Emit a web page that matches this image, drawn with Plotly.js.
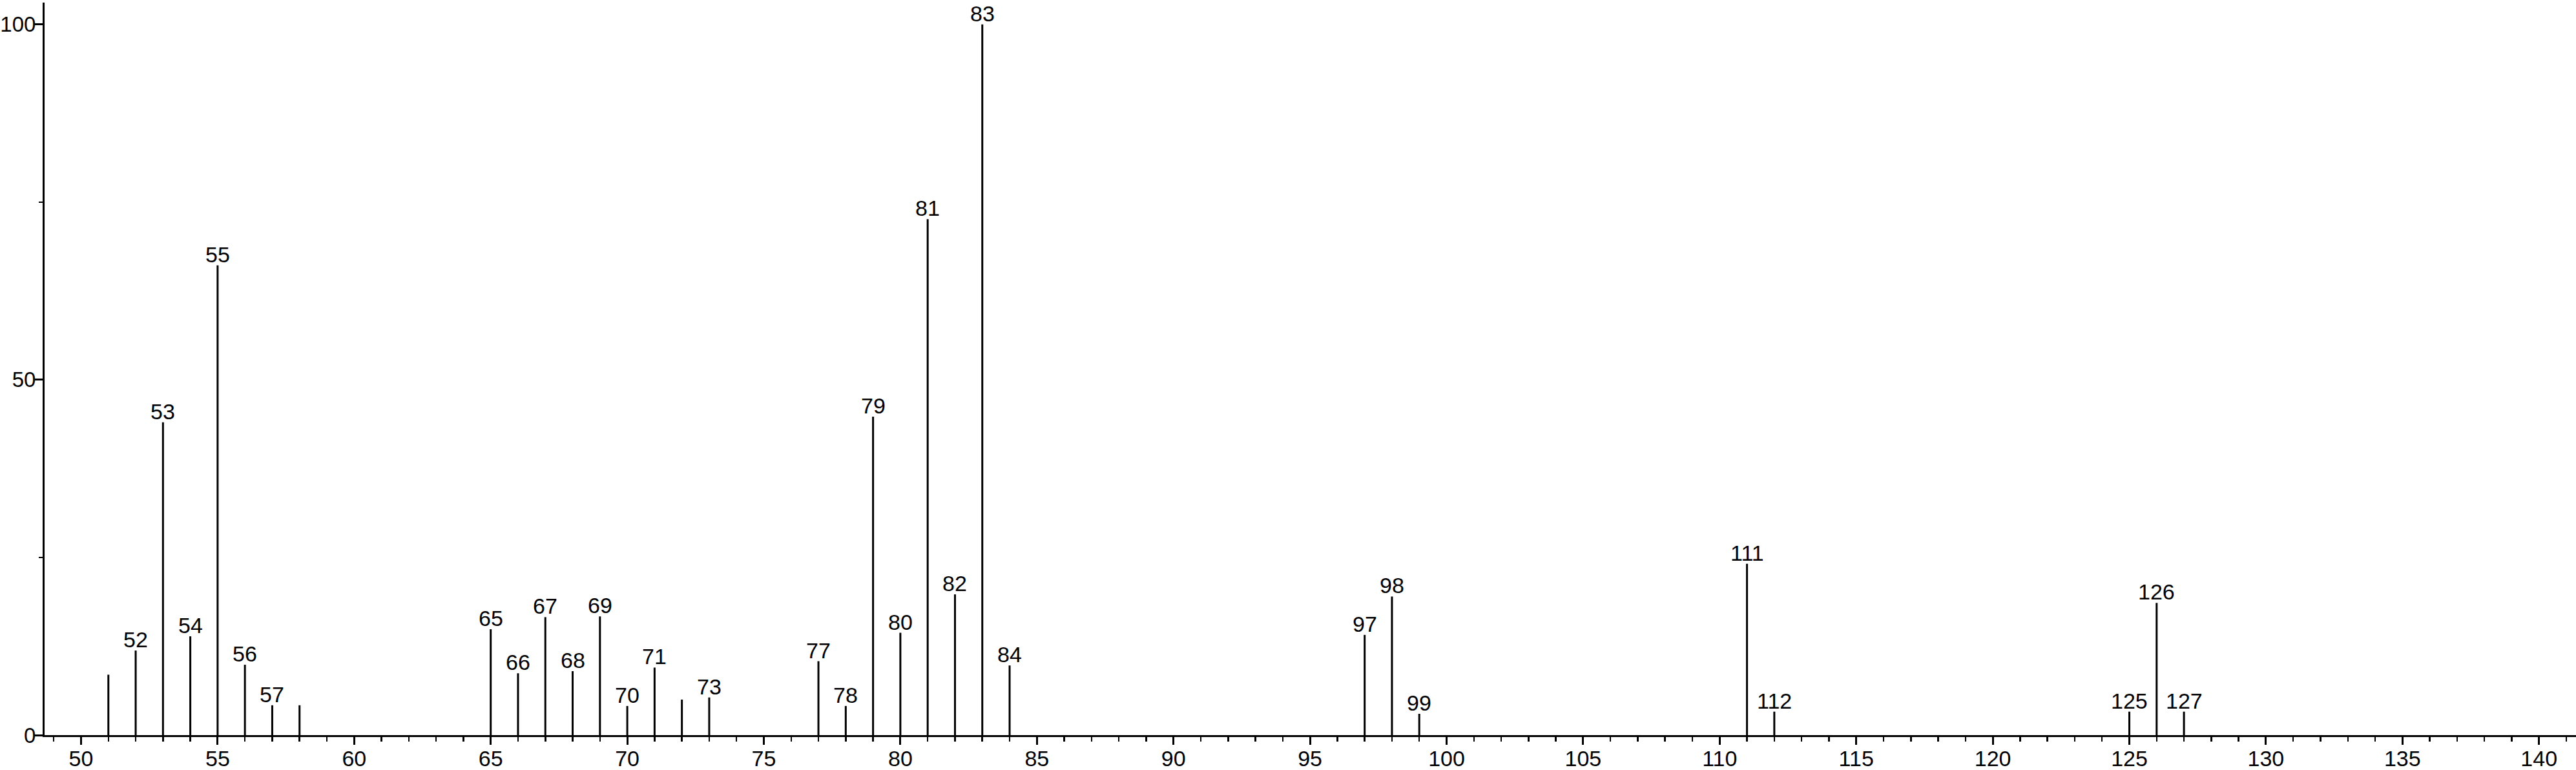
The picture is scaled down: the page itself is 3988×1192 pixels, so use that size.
<!DOCTYPE html>
<html>
<head>
<meta charset="utf-8">
<script src="https://cdn.plot.ly/plotly-3.0.1.min.js"></script>
<style>
  html, body { margin: 0; padding: 0; background: #ffffff; }
  #chart { width: 3988px; height: 1192px; }
</style>
</head>
<body>
<div id="chart"></div>
<script>
// m/z values of the peaks
const mz = [51, 52, 53, 54, 55, 56, 57, 58,
            65, 66, 67, 68, 69, 70, 71, 72, 73,
            77, 78, 79, 80, 81, 82, 83, 84,
            97, 98, 99, 111, 112, 125, 126, 127];
// relative intensities (%)
const intensity = [8.5, 11.9, 44.0, 13.9, 66.1, 9.9, 4.2, 4.2,
                   14.9, 8.7, 16.6, 9.0, 16.7, 4.1, 9.5, 5.0, 5.3,
                   10.4, 4.1, 44.8, 14.4, 72.6, 19.8, 100, 9.8,
                   14.1, 19.5, 3.0, 24.1, 3.3, 3.3, 18.6, 3.3];
// peaks that carry a label
const labeledMz = [52, 53, 54, 55, 56, 57,
                   65, 66, 67, 68, 69, 70, 71, 73,
                   77, 78, 79, 80, 81, 82, 83, 84,
                   97, 98, 99, 111, 112, 125, 126, 127];
// axis ticks
const xTickVals = [50, 55, 60, 65, 70, 75, 80, 85, 90, 95, 100, 105, 110, 115, 120, 125, 130, 135, 140];
const yTickVals = [0, 50, 100];

const FONT = '"Liberation Sans", Arial, Helvetica, sans-serif';
const FS = 34;

const stickX = [], stickY = [];
mz.forEach((m, i) => { stickX.push(m, m, null); stickY.push(0, intensity[i], null); });

const annotations = labeledMz.map(m => {
  const i = mz.indexOf(m);
  return {
    x: m, y: intensity[i], xref: 'x', yref: 'y',
    text: String(m), showarrow: false,
    xanchor: 'center', yanchor: 'bottom', yshift: -4,
    font: { family: FONT, size: FS, color: '#000000' }
  };
});

const traces = [
  {
    type: 'scatter', mode: 'lines', x: stickX, y: stickY,
    line: { color: '#000000', width: 3 }, hoverinfo: 'skip', showlegend: false
  }
];

const layout = {
  width: 3988, height: 1192,
  margin: { l: 69, r: 0, t: 4, b: 54, pad: 0 },
  paper_bgcolor: '#ffffff', plot_bgcolor: '#ffffff',
  showlegend: false, hovermode: false,
  font: { family: FONT, size: FS, color: '#000000' },
  annotations: annotations,
  xaxis: {
    range: [48.664, 141.355], showgrid: false, zeroline: false,
    showline: true, linecolor: '#000000', linewidth: 3,
    tickmode: 'array', tickvals: xTickVals, ticktext: xTickVals.map(String),
    ticks: 'outside', ticklen: 12, tickwidth: 3, tickcolor: '#000000',
    ticklabelstandoff: -8,
    tickfont: { family: FONT, size: FS, color: '#000000' },
    minor: { dtick: 1, tick0: 0, ticks: 'outside', ticklen: 7, tickwidth: 2.5, tickcolor: '#000000', showgrid: false },
    fixedrange: true
  },
  yaxis: {
    range: [0, 103.06], showgrid: false, zeroline: false,
    showline: true, linecolor: '#000000', linewidth: 3,
    tickmode: 'array', tickvals: yTickVals, ticktext: yTickVals.map(String),
    ticks: 'outside', ticklen: 12, tickwidth: 3, tickcolor: '#000000',
    ticklabelstandoff: -8,
    tickfont: { family: FONT, size: 33, color: '#000000' },
    minor: { dtick: 25, tick0: 0, ticks: 'outside', ticklen: 6, tickwidth: 2.5, tickcolor: '#000000', showgrid: false },
    fixedrange: true
  }
};

Plotly.newPlot('chart', traces, layout, { displayModeBar: false, staticPlot: true });
</script>
</body>
</html>
